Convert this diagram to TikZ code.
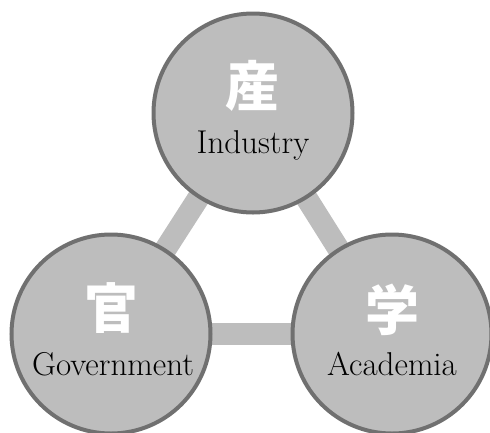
\documentclass[tikz,border=0pt]{standalone}
\usepackage{fontspec}
\newfontfamily\cjk{Noto Sans CJK JP}
\usetikzlibrary{backgrounds}
\definecolor{fillgray}{HTML}{BDBDBD}
\definecolor{edgegray}{HTML}{707070}
\tikzset{
  sector/.style={circle, draw=edgegray, fill=fillgray, line width=4pt, minimum size=199pt, inner sep=0pt},
  kanji/.style={text=white, font=\cjk\bfseries\fontsize{54}{60}\selectfont, inner sep=0pt},
  engl/.style={text=black, font=\fontsize{33}{38}\selectfont, anchor=base, inner sep=0pt},
  link/.style={draw=fillgray, line width=22pt}
}
\begin{document}
\begin{tikzpicture}[x=1pt,y=-1pt]
\useasboundingbox (0,0) rectangle (490,432);
\clip (0,0) rectangle (490,432);
\node[sector] (ind) at (253,113) {};
\node[sector] (gov) at (111,334) {};
\node[sector] (aca) at (392,334) {};
\begin{pgfonlayer}{background}
\draw[link] (ind.center) -- (gov.center);
\draw[link] (ind.center) -- (aca.center);
\draw[link] (gov.center) -- (aca.center);
\end{pgfonlayer}
\node[kanji] (indk) at (252,86) {産};
\node[kanji] (govk) at (111,308) {官};
\node[kanji] (acak) at (392,310) {学};
\node[engl] (indt) at (253,153) {Industry};
\node[engl] (govt) at (113,375) {Government};
\node[engl] (acat) at (392,375) {Academia};
\end{tikzpicture}
\end{document}
